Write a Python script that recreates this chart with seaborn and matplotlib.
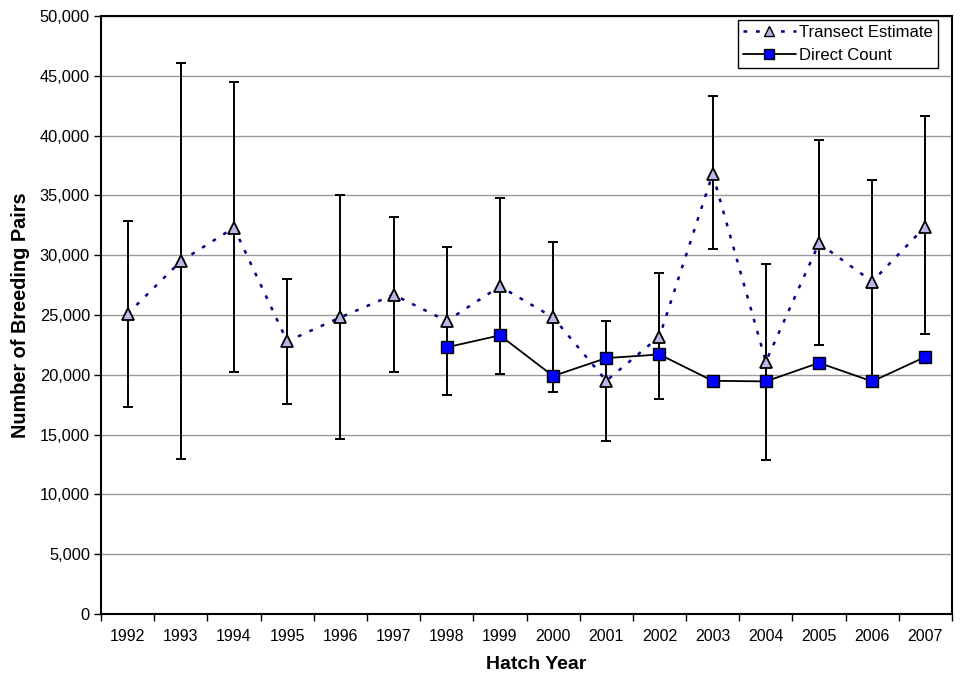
import matplotlib
matplotlib.use("Agg")
import matplotlib.pyplot as plt
import seaborn as sns
import numpy as np
import pandas as pd
from matplotlib.ticker import FuncFormatter, FixedLocator, MultipleLocator
from matplotlib.lines import Line2D

years = ["1992", "1993", "1994", "1995", "1996", "1997", "1998", "1999",
         "2000", "2001", "2002", "2003", "2004", "2005", "2006", "2007"]
transect = [25100, 29500, 32300, 22800, 24800, 26700, 24500, 27400,
            24800, 19500, 23200, 36800, 21100, 31000, 27800, 32400]
transect_low = [17300, 13000, 20200, 17600, 14600, 20200, 18300, 20100,
                18600, 14500, 18000, 30500, 12900, 22500, 19300, 23400]
transect_high = [32900, 46100, 44500, 28000, 35000, 33200, 30700, 34800,
                 31100, 24500, 28500, 43300, 29300, 39600, 36300, 41600]
direct_years = ["1998", "1999", "2000", "2001", "2002", "2003", "2004",
                "2005", "2006", "2007"]
direct = [22300, 23300, 19900, 21400, 21700, 19500, 19450, 21000, 19450, 21500]

sns.set_theme(style="white")
plt.rcParams['font.family'] = ['Liberation Sans', 'DejaVu Sans']
plt.rcParams['text.color'] = 'black'
plt.rcParams['axes.labelcolor'] = 'black'
plt.rcParams['xtick.color'] = 'black'
plt.rcParams['ytick.color'] = 'black'

pos = {y: i for i, y in enumerate(years)}
df_t = pd.DataFrame({"x": [pos[y] for y in years], "v": transect})
df_d = pd.DataFrame({"x": [pos[y] for y in direct_years], "v": direct})

fig = plt.figure(figsize=(9.62, 6.84), dpi=100)
ax = fig.add_axes([0.105, 0.1023, 0.8846, 0.8743])

# horizontal grid
ax.yaxis.grid(True, color="#999999", linewidth=1, zorder=0)
ax.set_axisbelow(True)

x_t = df_t["x"].to_numpy()
t = np.array(transect)
lo = t - np.array(transect_low)
hi = np.array(transect_high) - t
ax.errorbar(x_t, t, yerr=[lo, hi], fmt="none", ecolor="black",
            elinewidth=1.4, capsize=3.5, capthick=1.4, zorder=2)

sns.lineplot(data=df_t, x="x", y="v", ax=ax, color="#000080",
             linestyle=(0, (1.5, 3.5)), linewidth=1.8, marker="^",
             markersize=9, markerfacecolor="#B8B8E8", markeredgecolor="black",
             markeredgewidth=1.3, zorder=3)
sns.lineplot(data=df_d, x="x", y="v", ax=ax, color="black",
             linestyle="-", linewidth=1.3, marker="s",
             markersize=9, markerfacecolor="#0000FF", markeredgecolor="black",
             markeredgewidth=1.0, zorder=4)

ax.set_xlim(-0.5, len(years) - 0.5)
ax.set_ylim(0, 50000)
ax.yaxis.set_major_locator(MultipleLocator(5000))
ax.yaxis.set_major_formatter(FuncFormatter(lambda v, p: f"{int(v):,}"))

ax.xaxis.set_major_locator(FixedLocator(np.arange(-0.5, len(years), 1.0)))
ax.xaxis.set_major_formatter(FuncFormatter(lambda v, p: ""))
ax.set_xticks(np.arange(len(years)), labels=years, minor=True)
ax.tick_params(axis="x", which="major", direction="out", length=5,
               width=1, color="black", bottom=True)
ax.tick_params(axis="x", which="minor", length=0, pad=11, labelsize=11.5,
               labelcolor="black")
ax.tick_params(axis="y", which="major", direction="out", length=5,
               width=1, color="black", left=True, labelsize=11.8,
               labelcolor="black", pad=3)

for s in ax.spines.values():
    s.set_color("black")
    s.set_linewidth(1.5)

ax.set_xlabel("Hatch Year", fontsize=14, fontweight="bold", color="black")
ax.xaxis.set_label_coords(0.511, -0.070)
ax.set_ylabel("Number of Breeding Pairs", fontsize=14.3, fontweight="bold",
              labelpad=7, color="black")

handles = [
    Line2D([], [], color="#000080", linestyle=(0, (1.5, 3.5)), linewidth=1.8,
           marker="^", markersize=7, markerfacecolor="#B8B8E8",
           markeredgecolor="black"),
    Line2D([], [], color="black", linestyle="-", linewidth=1.3,
           marker="s", markersize=7, markerfacecolor="#0000FF",
           markeredgecolor="black"),
]
leg = ax.legend(handles, ["Transect Estimate", "Direct Count"],
                loc="upper right", bbox_to_anchor=(0.9835, 0.9933),
                fontsize=12, frameon=True, fancybox=False, framealpha=1,
                edgecolor="black", borderpad=0.3, labelspacing=0.45,
                handlelength=3.2, handletextpad=0.2, borderaxespad=0,
                labelcolor="black")
leg.get_frame().set_linewidth(1)

fig.savefig("out.png", dpi=100)
